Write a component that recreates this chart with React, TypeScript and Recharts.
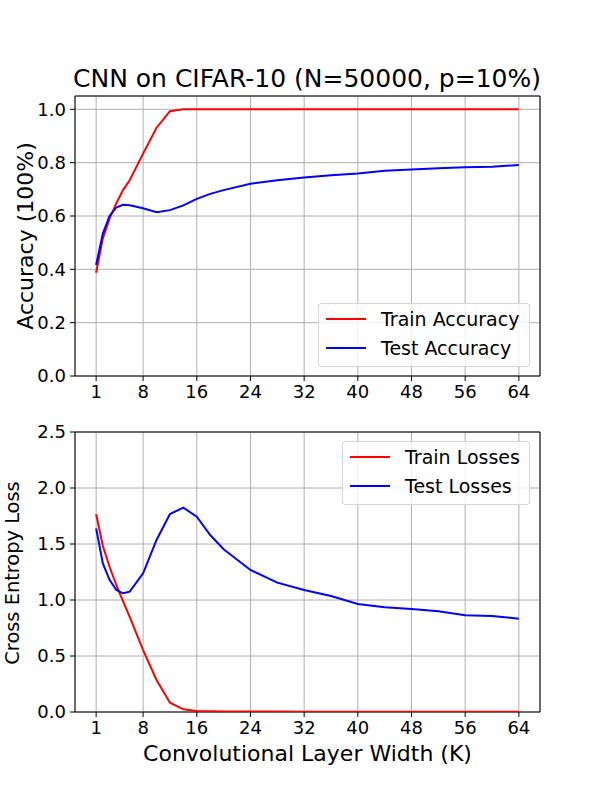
import React from 'react';
import { LineChart, Line, XAxis, YAxis, CartesianGrid, Legend, ReferenceArea } from 'recharts';

// convolutional layer widths (K)
const widths = [1, 2, 3, 4, 5, 6, 8, 10, 12, 14, 16, 18, 20, 24, 28, 32, 36, 40, 44, 48, 52, 56, 60, 64];

const trainAccuracy = [0.387, 0.516, 0.59, 0.647, 0.697, 0.734, 0.834, 0.931, 0.993, 1.0, 1.0, 1.0, 1.0, 1.0, 1.0, 1.0, 1.0, 1.0, 1.0, 1.0, 1.0, 1.0, 1.0, 1.0];
const testAccuracy = [0.416, 0.534, 0.6, 0.632, 0.642, 0.64, 0.629, 0.614, 0.622, 0.64, 0.664, 0.683, 0.697, 0.721, 0.734, 0.744, 0.753, 0.759, 0.77, 0.774, 0.779, 0.783, 0.785, 0.791];

const trainLosses = [1.765, 1.482, 1.297, 1.134, 0.99, 0.85, 0.553, 0.286, 0.083, 0.024, 0.01, 0.007, 0.005, 0.004, 0.004, 0.003, 0.003, 0.003, 0.003, 0.003, 0.003, 0.003, 0.003, 0.003];
const testLosses = [1.64, 1.327, 1.18, 1.09, 1.06, 1.075, 1.238, 1.536, 1.768, 1.824, 1.744, 1.58, 1.453, 1.268, 1.155, 1.089, 1.036, 0.964, 0.935, 0.92, 0.899, 0.863, 0.857, 0.833];

const xTicks = [1, 8, 16, 24, 32, 40, 48, 56, 64];
const accTicks = [0, 0.2, 0.4, 0.6, 0.8, 1.0];
const lossTicks = [0, 0.5, 1.0, 1.5, 2.0, 2.5];

const FONT = 'DejaVu Sans';
const X_DOMAIN: [number, number] = [-2.15, 67.15];

const accData = widths.map((k, i) => ({ k, train: trainAccuracy[i], test: testAccuracy[i] }));
const lossData = widths.map((k, i) => ({ k, train: trainLosses[i], test: testLosses[i] }));

const tickStyle = { fontSize: 18, fill: '#000', fontFamily: FONT };

const LegendBox = ({ payload, width }: any) => {
  // keep plotting order: train first, then test
  const items = [...(payload || [])].sort((a: any, b: any) => (a.dataKey === 'train' ? -1 : 1) - (b.dataKey === 'train' ? -1 : 1));
  return (
    <div
      style={{
        width,
        boxSizing: 'border-box',
        background: 'rgba(255,255,255,0.8)',
        border: '1px solid rgba(204,204,204,0.8)',
        borderRadius: 4,
        padding: '1px 0 4px 7px',
        fontFamily: FONT,
        fontSize: 19,
      }}
    >
      {items.map((p: any) => (
        <div key={p.value} style={{ display: 'flex', alignItems: 'center', height: 28.5 }}>
          <span style={{ display: 'inline-block', width: 40, height: 2, background: p.color, marginRight: 15 }} />
          <span>{p.value}</span>
        </div>
      ))}
    </div>
  );
};

type PanelProps = {
  data: any[];
  height: number;
  marginTop: number;
  marginBottom: number;
  yDomain: [number, number];
  yTicks: number[];
  trainName: string;
  testName: string;
  legendPos: { left: number; top: number; width: number };
};

const Panel = ({ data, height, marginTop, marginBottom, yDomain, yTicks, trainName, testName, legendPos }: PanelProps) => (
  <LineChart width={600} height={height} data={data} margin={{ top: marginTop, right: 60, bottom: marginBottom, left: 15 }}>
    <CartesianGrid stroke="#b0b0b0" strokeWidth={1} />
    <XAxis
      dataKey="k"
      type="number"
      domain={X_DOMAIN}
      ticks={xTicks}
      interval={0}
      allowDataOverflow
      height={30}
      tick={tickStyle}
      tickSize={5}
      tickMargin={4}
      tickLine={{ stroke: '#000' }}
      axisLine={false}
    />
    <YAxis
      type="number"
      domain={yDomain}
      ticks={yTicks}
      interval={0}
      allowDataOverflow
      width={60}
      tick={tickStyle}
      tickSize={5}
      tickMargin={4}
      tickLine={{ stroke: '#000' }}
      axisLine={false}
      tickFormatter={(v: number) => v.toFixed(1)}
    />
    <ReferenceArea x1={X_DOMAIN[0]} x2={X_DOMAIN[1]} y1={yDomain[0]} y2={yDomain[1]} fill="none" stroke="#000" strokeWidth={1} />
    <Legend
      layout="vertical"
      align="center"
      verticalAlign="middle"
      wrapperStyle={{ left: legendPos.left, top: legendPos.top, width: legendPos.width }}
      content={(props: any) => <LegendBox {...props} width={legendPos.width} />}
    />
    <Line dataKey="train" name={trainName} stroke="#ff0000" strokeWidth={2} dot={false} isAnimationActive={false} />
    <Line dataKey="test" name={testName} stroke="#0000ff" strokeWidth={2} dot={false} isAnimationActive={false} />
  </LineChart>
);

export default function App() {
  return (
    <div style={{ position: 'absolute', left: 0, top: 0, width: 600, height: 800, background: '#fff', fontFamily: FONT }}>
      <div
        style={{
          position: 'absolute', left: 7, top: 64, width: 600, textAlign: 'center', fontSize: 25,
          lineHeight: '30px', whiteSpace: 'nowrap',
        }}
      >
        CNN on CIFAR-10 (N=50000, p=10%)
      </div>
      <div style={{ position: 'absolute', left: 0, top: 0 }}>
        <Panel
          data={accData}
          height={410}
          marginTop={96}
          marginBottom={4}
          yDomain={[0, 1.05]}
          yTicks={accTicks}
          trainName="Train Accuracy"
          testName="Test Accuracy"
          legendPos={{ left: 318, top: 303, width: 212 }}
        />
      </div>
      <div style={{ position: 'absolute', left: 0, top: 400 }}>
        <Panel
          data={lossData}
          height={350}
          marginTop={32}
          marginBottom={8}
          yDomain={[0, 2.5]}
          yTicks={lossTicks}
          trainName="Train Losses"
          testName="Test Losses"
          legendPos={{ left: 342, top: 41, width: 188 }}
        />
      </div>
      <div
        style={{
          position: 'absolute', left: 26 - 150, top: 236 - 15, width: 300, height: 30, lineHeight: '30px',
          textAlign: 'center', fontSize: 22, transform: 'rotate(-90deg)', whiteSpace: 'nowrap',
        }}
      >
        Accuracy (100%)
      </div>
      <div
        style={{
          position: 'absolute', left: 13 - 150, top: 573 - 15, width: 300, height: 30, lineHeight: '30px',
          textAlign: 'center', fontSize: 19.4, transform: 'rotate(-90deg)', whiteSpace: 'nowrap',
        }}
      >
        Cross Entropy Loss
      </div>
      <div
        style={{
          position: 'absolute', left: 75, top: 740, width: 465, textAlign: 'center', fontSize: 22,
          lineHeight: '28px', whiteSpace: 'nowrap',
        }}
      >
        Convolutional Layer Width (K)
      </div>
    </div>
  );
}
